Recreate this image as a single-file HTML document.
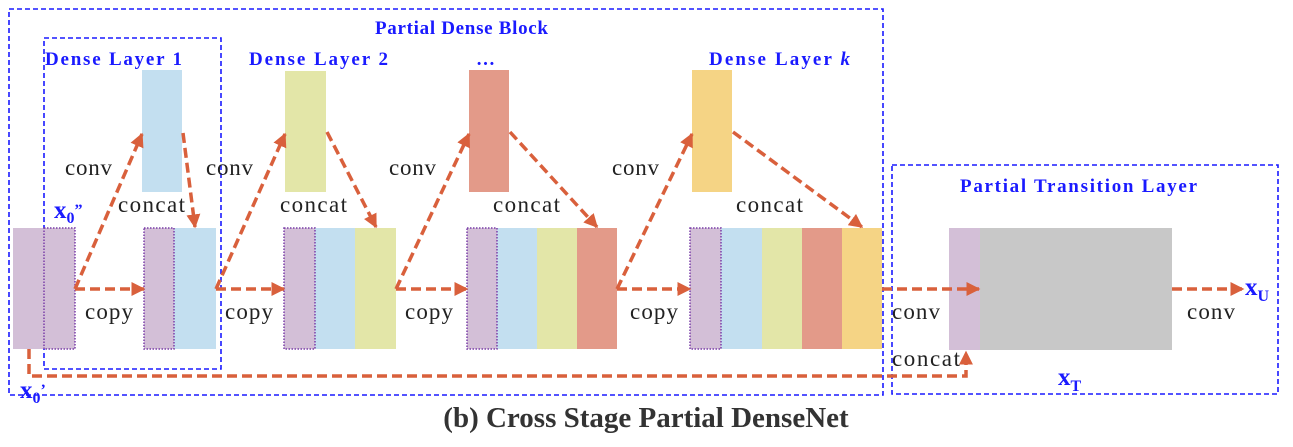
<!DOCTYPE html>
<html><head><meta charset="utf-8"><style>html,body{margin:0;padding:0;background:#fff}svg{display:block}</style></head>
<body>
<svg width="1293" height="447" viewBox="0 0 1293 447" xmlns="http://www.w3.org/2000/svg">
<defs>
<marker id="a" viewBox="0 0 10 10" refX="9" refY="5" markerWidth="14" markerHeight="14" orient="auto" markerUnits="userSpaceOnUse">
<path d="M0,0 L10,5 L0,10 Z" fill="#d9603c"/>
</marker>
</defs>
<g fill="none" stroke="#1a1aff" stroke-width="1.6" stroke-dasharray="5,3">
<rect x="9" y="9" width="874" height="386"/>
<rect x="44" y="38" width="177" height="331"/>
<rect x="892" y="165" width="386" height="229"/>
</g>
<rect x="142" y="70" width="40" height="122" fill="#c3dff0"/>
<rect x="285" y="71" width="41" height="121" fill="#e3e6a8"/>
<rect x="469" y="70" width="40" height="122" fill="#e39a89"/>
<rect x="692" y="70" width="40" height="122" fill="#f5d485"/>
<rect x="13" y="228" width="31" height="121" fill="#d3bfd7"/>
<rect x="44" y="228" width="31" height="121" fill="#d3bfd7"/>
<rect x="144" y="228" width="30" height="121" fill="#d3bfd7"/>
<rect x="174" y="228" width="42" height="121" fill="#c3dff0"/>
<rect x="284" y="228" width="31" height="121" fill="#d3bfd7"/>
<rect x="315" y="228" width="40" height="121" fill="#c3dff0"/>
<rect x="355" y="228" width="41" height="121" fill="#e3e6a8"/>
<rect x="467" y="228" width="30" height="121" fill="#d3bfd7"/>
<rect x="497" y="228" width="40" height="121" fill="#c3dff0"/>
<rect x="537" y="228" width="40" height="121" fill="#e3e6a8"/>
<rect x="577" y="228" width="40" height="121" fill="#e39a89"/>
<rect x="690" y="228" width="31" height="121" fill="#d3bfd7"/>
<rect x="721" y="228" width="41" height="121" fill="#c3dff0"/>
<rect x="762" y="228" width="40" height="121" fill="#e3e6a8"/>
<rect x="802" y="228" width="40" height="121" fill="#e39a89"/>
<rect x="842" y="228" width="40" height="121" fill="#f5d485"/>
<rect x="949" y="228" width="31" height="122" fill="#d3bfd7"/>
<rect x="980" y="228" width="192" height="122" fill="#c8c8c8"/>
<g fill="none" stroke="#7a3fa8" stroke-width="1.5" stroke-dasharray="1.5,1.5">
<rect x="44" y="228" width="31" height="121"/>
<rect x="144" y="228" width="30" height="121"/>
<rect x="284" y="228" width="31" height="121"/>
<rect x="467" y="228" width="30" height="121"/>
<rect x="690" y="228" width="31" height="121"/>
</g>
<g fill="none" stroke="#d9603c" stroke-width="3.5" stroke-dasharray="10,5" marker-end="url(#a)">
<line x1="75" y1="289" x2="144" y2="289"/>
<line x1="216" y1="289" x2="284" y2="289"/>
<line x1="396" y1="289" x2="467" y2="289"/>
<line x1="617" y1="289" x2="690" y2="289"/>
<line x1="882" y1="289" x2="979" y2="289"/>
<line x1="1172" y1="289" x2="1243" y2="289"/>
<line x1="75" y1="289" x2="142" y2="134"/>
<line x1="183" y1="133" x2="195" y2="227"/>
<line x1="216" y1="289" x2="285" y2="134"/>
<line x1="327" y1="132" x2="376" y2="227"/>
<line x1="396" y1="289" x2="469" y2="134"/>
<line x1="510" y1="132" x2="597" y2="227"/>
<line x1="617" y1="289" x2="692" y2="134"/>
<line x1="733" y1="132" x2="862" y2="227"/>
<polyline points="29,349 29,376 966,376 966,352"/>
</g>
<g font-family="Liberation Serif, serif" font-size="23" fill="#222">
<text x="65" y="175" textLength="47">conv</text>
<text x="118" y="212" textLength="67">concat</text>
<text x="206" y="175" textLength="47">conv</text>
<text x="280" y="212" textLength="67">concat</text>
<text x="389" y="175" textLength="47">conv</text>
<text x="493" y="212" textLength="67">concat</text>
<text x="612" y="175" textLength="47">conv</text>
<text x="736" y="212" textLength="67">concat</text>
<text x="85" y="319" textLength="48">copy</text>
<text x="225" y="319" textLength="48">copy</text>
<text x="405" y="319" textLength="48">copy</text>
<text x="630" y="319" textLength="48">copy</text>
<text x="892" y="319" textLength="48">conv</text>
<text x="1187" y="319" textLength="48">conv</text>
<text x="892" y="366" textLength="68">concat</text>
</g>
<g font-family="Liberation Serif, serif" font-weight="bold" fill="#1a1aff" font-size="19">
<text x="375" y="34" textLength="173">Partial Dense Block</text>
<text x="45" y="65" textLength="137">Dense Layer 1</text>
<text x="249" y="65" textLength="139">Dense Layer 2</text>
<text x="476" y="65">…</text>
<text x="709" y="65" textLength="141">Dense Layer <tspan font-style="italic">k</tspan></text>
<text x="960" y="192" textLength="237">Partial Transition Layer</text>
<text x="54" y="218" font-size="25">x<tspan font-size="16" dy="5">0</tspan><tspan font-size="16" dy="-8">”</tspan></text>
<text x="20" y="398" font-size="25">x<tspan font-size="16" dy="5">0</tspan><tspan font-size="16" dy="-8">’</tspan></text>
<text x="1245" y="295" font-size="25">x<tspan font-size="16" dy="6">U</tspan></text>
<text x="1058" y="385" font-size="25">x<tspan font-size="16" dy="6">T</tspan></text>
</g>
<text x="646" y="427" text-anchor="middle" font-family="Liberation Serif, serif" font-weight="bold" font-size="29" fill="#333">(b) Cross Stage Partial DenseNet</text>
</svg>
</body></html>
